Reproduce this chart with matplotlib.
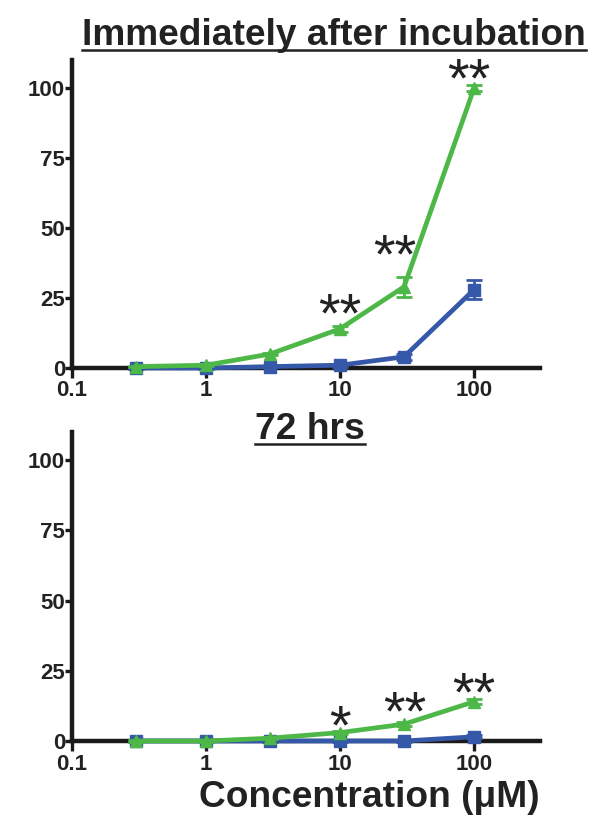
import matplotlib
matplotlib.use("Agg")
import matplotlib.pyplot as plt
from matplotlib.lines import Line2D
from matplotlib.ticker import FixedLocator, FixedFormatter, NullLocator

plt.rcParams['font.family'] = ['Liberation Sans', 'DejaVu Sans']

# concentrations (uM)
conc = [0.3, 1, 3, 10, 30, 100]

# immediately after incubation
imm_green = [0.5, 1, 5, 14, 29, 100]
imm_green_err = [0.3, 0.3, 0.5, 1, 3.5, 1]
imm_blue = [0, 0, 0.5, 1, 4, 28]
imm_blue_err = [0.3, 0.3, 0.3, 0.5, 1, 3.5]
imm_stars = ["", "", "", "**", "**", "**"]

# 72 hrs
d72_green = [0, 0, 1, 3, 6, 14]
d72_green_err = [0.2, 0.2, 0.3, 0.5, 0.8, 1]
d72_blue = [0, 0, 0, 0, 0, 1.5]
d72_blue_err = [0.2, 0.2, 0.2, 0.2, 0.3, 0.5]
d72_stars = ["", "", "", "*", "**", "**"]

xticks = [0.1, 1, 10, 100]
xtick_labels = ["0.1", "1", "10", "100"]
yticks = [0, 25, 50, 75, 100]

green = "#4db848"
blue = "#3558a8"
ink = "#222222"

W, H = 596, 830
fig = plt.figure(figsize=(W / 100, H / 100), dpi=100)
ax1 = fig.add_axes([72 / W, 1 - 368 / H, 468 / W, 308 / H])
ax2 = fig.add_axes([72 / W, 1 - 741 / H, 468 / W, 309 / H])


def style(ax, blue_y, blue_e, green_y, green_e, stars, star_off):
    ax.errorbar(conc, blue_y, yerr=blue_e, color=blue, lw=3.4, marker='s', ms=9,
                capsize=6, capthick=2, elinewidth=2, clip_on=False, zorder=3)
    ax.errorbar(conc, green_y, yerr=green_e, color=green, lw=3.4, marker='^', ms=9,
                capsize=6, capthick=2, elinewidth=2, clip_on=False, zorder=4)
    for x, y, s, (dx, dy) in zip(conc, green_y, stars, star_off):
        if s:
            ax.text(x * dx, y + dy, s, ha='center', va='center', fontsize=40,
                    color=ink)
    ax.set_xscale('log')
    ax.set_xlim(0.1, 310)
    ax.set_ylim(0, 110)
    ax.xaxis.set_major_locator(FixedLocator(xticks))
    ax.xaxis.set_major_formatter(FixedFormatter(xtick_labels))
    ax.xaxis.set_minor_locator(NullLocator())
    ax.set_yticks(yticks)
    for sp in ['top', 'right']:
        ax.spines[sp].set_visible(False)
    for sp in ['left', 'bottom']:
        ax.spines[sp].set_linewidth(3.2)
        ax.spines[sp].set_color('#1a1a1a')
    ax.tick_params(axis='y', direction='out', length=5, width=2.4, color='#1a1a1a',
                   labelsize=16, pad=0)
    ax.tick_params(axis='x', direction='out', length=7, width=2.4, color='#1a1a1a',
                   labelsize=16, pad=2)
    for lab in ax.get_xticklabels() + ax.get_yticklabels():
        lab.set_fontweight('bold')
        lab.set_color(ink)
    ax.patch.set_alpha(0)


style(ax1, imm_blue, imm_blue_err, imm_green, imm_green_err, imm_stars,
      [(1, 0), (1, 0), (1, 0), (1, 4), (0.85, 10), (0.92, 2)])
style(ax2, d72_blue, d72_blue_err, d72_green, d72_green_err, d72_stars,
      [(1, 0), (1, 0), (1, 0), (1, 1), (1.02, 3), (1, 2)])

t1 = fig.text(334 / W, 1 - 45 / H, "Immediately after incubation", ha='center',
              va='baseline', fontsize=29, fontweight='bold', color=ink)
t2 = fig.text(310 / W, 1 - 439 / H, "72 hrs", ha='center', va='baseline',
              fontsize=24, fontweight='bold', color=ink)
t3 = fig.text(540 / W, 1 - 807 / H, "Concentration (\u03bcM)", ha='right', va='baseline',
              fontsize=29, fontweight='bold', color=ink)

# the reference uses a condensed face: shrink each text to the width it takes there
fig.canvas.draw()
rend = fig.canvas.get_renderer()
for t, width in [(t1, 503), (t2, 110), (t3, 340)]:
    bb = t.get_window_extent(rend)
    t.set_fontsize(t.get_fontsize() * width / bb.width)

# underline the two titles
fig.canvas.draw()
for t, gap in [(t1, 5), (t2, 5)]:
    bb = t.get_window_extent(rend)
    y = t.get_position()[1] - gap / H
    fig.add_artist(Line2D([bb.x0 / W, bb.x1 / W], [y, y], lw=1.8, color=ink))

fig.savefig("out.png", dpi=100)
